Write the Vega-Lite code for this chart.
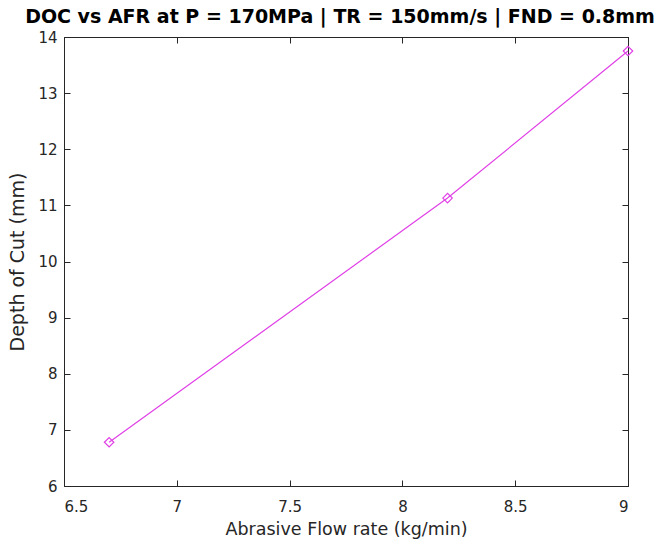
{
  "$schema": "https://vega.github.io/schema/vega-lite/v6.json",
  "width": 564,
  "height": 449,
  "autosize": {"type": "none"},
  "padding": {"left": 64, "top": 37, "right": 35, "bottom": 54},
  "background": "white",
  "title": {
    "text": "DOC vs AFR at P = 170MPa | TR = 150mm/s | FND = 0.8mm",
    "font": "DejaVu Sans",
    "fontSize": 19,
    "fontWeight": "bold",
    "color": "#000000",
    "anchor": "middle",
    "dx": -6,
    "offset": 3
  },
  "data": {
    "values": [
      {"afr": 6.7, "doc": 6.78},
      {"afr": 8.2, "doc": 11.13},
      {"afr": 9.0, "doc": 13.75}
    ]
  },
  "config": {
    "view": {"stroke": "#262626", "strokeWidth": 1},
    "axis": {
      "labelFont": "DejaVu Sans",
      "titleFont": "DejaVu Sans",
      "labelFontSize": 15,
      "titleFontSize": 17.5,
      "titleFontWeight": "normal",
      "labelColor": "#262626",
      "titleColor": "#262626",
      "domainColor": "#262626",
      "tickColor": "#262626",
      "tickSize": -6,
      "grid": false
    }
  },
  "resolve": {"scale": {"x": "independent", "y": "independent"}},
  "layer": [
    {
      "mark": {"type": "line", "color": "#e040e6", "strokeWidth": 1.2, "point": {"shape": "diamond", "filled": false, "size": 90, "color": "#e040e6", "strokeWidth": 1.2}},
      "encoding": {
        "x": {"field": "afr", "type": "quantitative", "scale": {"domain": [6.5, 9], "nice": false, "zero": false},
              "axis": {"title": "Abrasive Flow rate (kg/min)", "values": [6.5, 7, 7.5, 8, 8.5, 9], "format": "~g", "labelPadding": 19, "titlePadding": 6}},
        "y": {"field": "doc", "type": "quantitative", "scale": {"domain": [6, 14], "nice": false, "zero": false},
              "axis": {"title": "Depth of Cut (mm)", "titleFontSize": 19, "values": [6, 7, 8, 9, 10, 11, 12, 13, 14], "labelPadding": 13, "titlePadding": 10}}
      }
    },
    {
      "mark": {"type": "point", "opacity": 0},
      "encoding": {
        "x": {"field": "afr", "type": "quantitative", "scale": {"domain": [6.5, 9], "nice": false, "zero": false},
              "axis": {"orient": "top", "title": null, "labels": false, "values": [6.5, 7, 7.5, 8, 8.5, 9]}},
        "y": {"field": "doc", "type": "quantitative", "scale": {"domain": [6, 14], "nice": false, "zero": false},
              "axis": {"orient": "right", "title": null, "labels": false, "values": [6, 7, 8, 9, 10, 11, 12, 13, 14]}}
      }
    }
  ]
}
